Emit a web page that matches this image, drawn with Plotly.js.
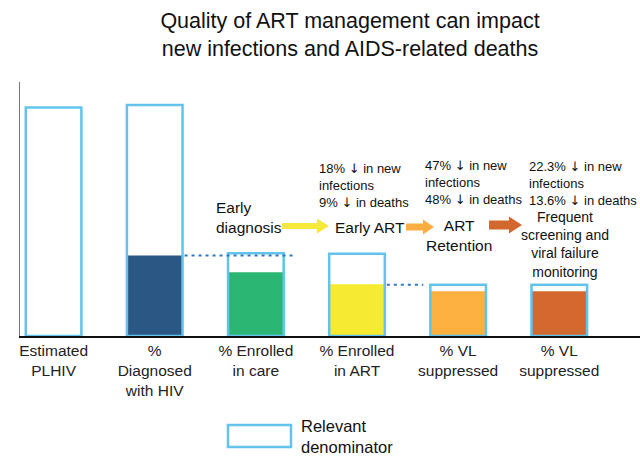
<!DOCTYPE html>
<html>
<head>
<meta charset="utf-8">
<script src="https://cdn.plot.ly/plotly-3.0.1.min.js"></script>
<style>html,body{margin:0;padding:0;background:#fff;}#chart{width:640px;height:456px;}</style>
</head>
<body>
<div id="chart"></div>
<script>
// ---- data ----
const categories = ["Estimated<br>PLHIV", "%<br>Diagnosed<br>with HIV", "% Enrolled<br>in care", "% Enrolled<br>in ART", "% VL<br>suppressed", "% VL<br>suppressed"];
const denominatorValues = [100, 101, 36.2, 36.0, 22.4, 22.4];
const numeratorValues = [null, 35.2, 27.9, 22.6, 19.6, 19.6];
const fillColors = ["#ffffff", "#2A5784", "#2BB673", "#F6EB30", "#FBB040", "#D4692F"];
const newInfectionDrop = ["18%", "47%", "22.3%"];
const deathDrop = ["9%", "48%", "13.6%"];
const interventions = ["Early ART", "ART<br>Retention", "Frequent<br>screening and<br>viral failure<br>monitoring"];

// ---- layout helpers ----
const FONT = "Liberation Sans, Arial, Helvetica, sans-serif";
const L = 20, R = 640, T = 82, B = 336;
const px = x => (x - L) / (R - L);
const py = y => (B - y) / (B - T);
const idx = categories.map((_, i) => i);
const BW = 0.55;
const OUTLINE = "#63C3EC";
const DOWN = '<span style="font-family:DejaVu Sans">↓</span>';

const traces = [
  {
    type: "bar", x: idx, y: numeratorValues, width: BW,
    marker: {color: fillColors, line: {width: 0}},
    showlegend: false, hoverinfo: "skip"
  },
  {
    type: "bar", x: idx, y: denominatorValues, width: BW, name: "Relevant denominator",
    marker: {color: "rgba(0,0,0,0)", line: {color: OUTLINE, width: 2.5}},
    showlegend: false, hoverinfo: "skip"
  }
];

function arrow(x0, xh, x1, yc, hs, hh, color) {
  const p = [
    [x0, yc - hs], [xh, yc - hs], [xh, yc - hh], [x1, yc],
    [xh, yc + hh], [xh, yc + hs], [x0, yc + hs]
  ];
  return {
    type: "path", xref: "paper", yref: "paper",
    path: "M" + p.map(q => px(q[0]).toFixed(4) + "," + py(q[1]).toFixed(4)).join(" L") + " Z",
    fillcolor: color, line: {width: 0}
  };
}

const DOTS = {color: "#2F78C0", width: 2, dash: "3px,4px"};
const shapes = [
  {type: "line", xref: "x", yref: "y", x0: 1 + BW / 2 + 0.02, x1: 2 + BW / 2 + 0.09,
   y0: numeratorValues[1], y1: numeratorValues[1], line: DOTS},
  {type: "line", xref: "x", yref: "y", x0: 3 + BW / 2 + 0.02, x1: 4 - BW / 2 - 0.07,
   y0: denominatorValues[4], y1: denominatorValues[4], line: DOTS},
  arrow(282, 317, 329, 226, 3, 7.5, "#F7E93A"),
  arrow(406, 423, 434, 227, 3.5, 7.5, "#FAAE42"),
  arrow(489, 509, 522, 225, 4.5, 8.5, "#D2682E"),
  {type: "rect", xref: "paper", yref: "paper", x0: px(228), x1: px(291), y0: py(425), y1: py(447),
   line: {color: OUTLINE, width: 2.5}, fillcolor: "rgba(0,0,0,0)"}
];

function ann(text, x, y, size, xanchor, align) {
  return {text: text, xref: "paper", yref: "paper", x: px(x), y: py(y),
    xanchor: xanchor, yanchor: "middle", align: align, showarrow: false,
    font: {family: FONT, size: size, color: "#111"}, borderpad: 0};
}
const impactText = i => newInfectionDrop[i] + " " + DOWN + " in new<br>infections<br>" + deathDrop[i] + " " + DOWN + " in deaths";

const annotations = [
  ann("Early<br>diagnosis", 215, 217, 15.5, "left", "left"),
  ann(interventions[0], 334, 227, 15.5, "left", "left"),
  ann(interventions[1], 459, 235.5, 15.5, "center", "center"),
  ann(interventions[2], 565, 244, 14, "center", "center"),
  ann(impactText(0), 318, 185, 13, "left", "left"),
  ann(impactText(1), 424, 182.5, 13, "left", "left"),
  ann(impactText(2), 528, 183, 13, "left", "left"),
  ann("Relevant<br>denominator", 300, 436, 16.5, "left", "left")
];

const layout = {
  width: 640, height: 456,
  margin: {l: L, r: 640 - R, t: T, b: 456 - B},
  paper_bgcolor: "#fff", plot_bgcolor: "#fff",
  barmode: "overlay",
  font: {family: FONT, color: "#111"},
  title: {
    text: "Quality of ART management can impact<br>new infections and AIDS-related deaths",
    x: 350 / 640, xanchor: "center", y: 1 - 28 / 456, yanchor: "top",
    font: {family: FONT, size: 21.5, color: "#111"}
  },
  xaxis: {
    range: [-0.332, 5.798], tickvals: idx, ticktext: categories,
    showline: true, linecolor: "#111", linewidth: 1.5, ticks: "", showgrid: false, zeroline: false,
    tickfont: {family: FONT, size: 15.5, color: "#222"}, fixedrange: true
  },
  yaxis: {
    range: [0, 111.1], showline: true, linecolor: "#777", linewidth: 1.5,
    showticklabels: false, ticks: "", showgrid: false, zeroline: false, fixedrange: true
  },
  shapes: shapes,
  annotations: annotations,
  showlegend: false
};

Plotly.newPlot("chart", traces, layout, {displayModeBar: false, staticPlot: true});
</script>
</body>
</html>
